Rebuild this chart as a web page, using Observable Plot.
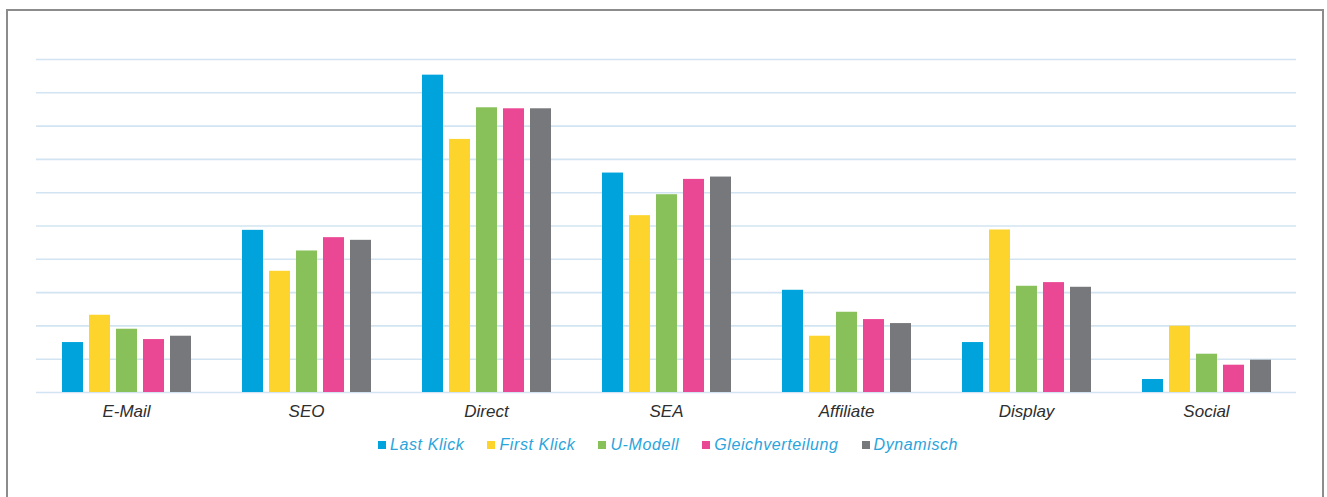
<!DOCTYPE html>
<html>
<head>
<meta charset="utf-8">
<script src="https://cdn.jsdelivr.net/npm/d3@7"></script>
<script src="https://cdn.jsdelivr.net/npm/@observablehq/plot@0.6"></script>
<style>
  html, body { margin: 0; padding: 0; background: #fff; overflow: hidden; width: 1327px; height: 497px; }
  #frame { position: absolute; left: 6px; top: 9px; width: 1318px; height: 700px; border: 2px solid #8c8c8c; box-sizing: border-box; }
  #chart { position: absolute; left: 0; top: 0; }
  #legend { position: absolute; left: 378px; top: 436px; display: flex; align-items: center;
    font-family: "Liberation Sans", Arial, sans-serif; font-style: italic; font-size: 16px; letter-spacing: 0.6px; color: #2aa4dc; white-space: nowrap; }
  .item { display: flex; align-items: center; margin-right: 23px; }
  .sw { width: 8px; height: 8px; margin-right: 4px; }
</style>
</head>
<body>
<div id="frame"></div>
<div id="chart"></div>
<div id="legend"></div>
<script>
const categories = ["E-Mail", "SEO", "Direct", "SEA", "Affiliate", "Display", "Social"];
const seriesNames = ["Last Klick", "First Klick", "U-Modell", "Gleichverteilung", "Dynamisch"];
const seriesColors = ["#00a3dc", "#fcd42b", "#88c15a", "#ea4895", "#77787b"];
const lastKlick       = [1.50, 4.87, 9.53, 6.59, 3.07, 1.50, 0.39];
const firstKlick      = [2.32, 3.64, 7.60, 5.31, 1.69, 4.88, 1.99];
const uModell         = [1.90, 4.25, 8.55, 5.94, 2.41, 3.19, 1.15];
const gleichverteilung= [1.59, 4.65, 8.52, 6.40, 2.19, 3.30, 0.82];
const dynamisch       = [1.69, 4.57, 8.52, 6.47, 2.07, 3.16, 0.97];
const gridTicks = [0, 1, 2, 3, 4, 5, 6, 7, 8, 9, 10];

const seriesValues = [lastKlick, firstKlick, uModell, gleichverteilung, dynamisch];
const data = [];
categories.forEach((c, i) => {
  seriesNames.forEach((s, j) => data.push({category: c, series: s, value: seriesValues[j][i]}));
});

const chart = Plot.plot({
  width: 1327,
  height: 430,
  marginLeft: 36,
  marginRight: 31,
  marginTop: 59,
  marginBottom: 38,
  style: {background: "transparent", overflow: "visible"},
  fx: {domain: categories, padding: 0},
  x: {domain: seriesNames, paddingInner: 0.225, paddingOuter: 0.83, axis: null},
  y: {domain: [0, 10], axis: null},
  color: {domain: seriesNames, range: seriesColors},
  marks: [
    Plot.gridY(gridTicks, {stroke: "#d2e4f1", strokeOpacity: 1, strokeWidth: 1.6}),
    Plot.barY(data, {fx: "category", x: "series", y: "value", fill: "series"}),
    Plot.axisFx({anchor: "bottom", tickSize: 0, tickPadding: 12, label: null,
      fontSize: 17, fontStyle: "italic", fontFamily: "Liberation Sans, Arial, sans-serif", fill: "#2e2e2e"})
  ]
});
document.getElementById("chart").appendChild(chart);

const legend = document.getElementById("legend");
seriesNames.forEach((s, j) => {
  const item = document.createElement("div");
  item.className = "item";
  const sw = document.createElement("span");
  sw.className = "sw";
  sw.style.background = seriesColors[j];
  const t = document.createElement("span");
  t.textContent = s;
  item.appendChild(sw);
  item.appendChild(t);
  legend.appendChild(item);
});
</script>
</body>
</html>
